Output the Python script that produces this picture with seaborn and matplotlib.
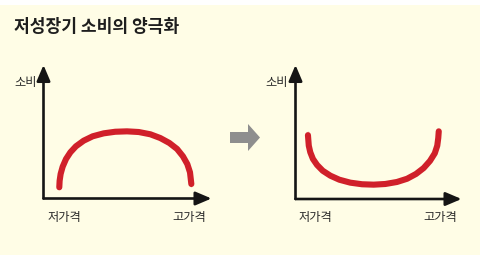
import matplotlib
matplotlib.use("Agg")
import matplotlib.pyplot as plt
from matplotlib.patches import Rectangle, FancyArrow
import seaborn as sns
import pandas as pd

sns.set_theme(style="white")
plt.rcParams['font.family'] = ['Noto Sans CJK KR', 'DejaVu Sans']

# ---- data (price 0-100 along x axis, consumption 0-100 along y axis) ----
title = "저성장기 소비의 양극화"
y_label = "소비"
x_low = "저가격"
x_high = "고가격"

before_price = [9.4, 9.6, 10.2, 11.4, 13.4, 16.0, 19.3, 23.9, 29.3, 35.8, 42.7,
                49.7, 56.7, 63.6, 69.5, 74.9, 79.5, 83.0, 85.6, 87.2, 88.0, 88.0]
before_consumption = [8.4, 13.3, 18.4, 23.8, 29.6, 34.6, 39.1, 43.3, 46.6, 48.8, 50.0,
                      50.3, 49.8, 48.1, 45.3, 41.6, 37.1, 31.6, 25.8, 19.6, 13.3, 8.4]

after_price = [7.5, 7.5, 8.0, 8.9, 10.5, 13.0, 16.4, 21.0, 26.4, 33.0, 40.1,
               47.1, 54.1, 61.1, 67.2, 72.6, 77.2, 81.0, 83.9, 85.4, 86.0, 86.3]
after_consumption = [50.5, 44.8, 39.8, 34.9, 29.9, 25.4, 21.1, 17.4, 14.4, 12.2, 11.0,
                     10.7, 11.2, 12.7, 15.1, 18.7, 23.1, 28.4, 34.1, 39.8, 45.5, 50.5]

W, H = 480, 262
fig = plt.figure(figsize=(W / 100, H / 100), dpi=100, facecolor="white")

# cream background band
fig.patches.append(Rectangle((0, 7 / H), 1, 250 / H, transform=fig.transFigure,
                             facecolor="#fffde6", edgecolor="none", zorder=-5))

fig.text(14 / W, 1 - 27.5 / H, title, fontsize=12.3, fontweight="black",
         color="#1e1e1e", ha="left", va="center")

RED = "#d0202a"
AXC = "#151515"


def panel(rect, px, py):
    ax = fig.add_axes(rect)
    ax.set_facecolor("none")
    ax.set_zorder(3)
    df = pd.DataFrame({"price": px, "consumption": py})
    sns.lineplot(data=df, x="price", y="consumption", sort=False, ax=ax,
                 color=RED, linewidth=4.4, solid_capstyle="round",
                 solid_joinstyle="round")
    ax.set_xlim(0, 100)
    ax.set_ylim(0, 100)
    for s in ax.spines.values():
        s.set_visible(False)
    ax.set_xticks([])
    ax.set_yticks([])
    ax.set_xlabel("")
    ax.set_ylabel("")
    ap = dict(arrowstyle="-|>,head_length=0.8,head_width=0.34", lw=1.9,
              color=AXC, shrinkA=0, shrinkB=0, mutation_scale=12)
    ax.annotate("", xy=(100, 0), xytext=(0, 0), arrowprops=ap,
                annotation_clip=False)
    ax.annotate("", xy=(0, 100), xytext=(0, 0), arrowprops=ap,
                annotation_clip=False)
    return ax


# left panel: origin (43.5,198.5), x tip 211.7, y tip 65
panel([43.5 / W, (H - 198.5) / H, 168 / W, 133.5 / H], before_price, before_consumption)
# right panel: origin (295.5,199), x tip 461.5, y tip 65
panel([295.5 / W, (H - 199) / H, 166 / W, 134 / H], after_price, after_consumption)

LBL = "#2a2a2a"
FS = 8.8
fig.text(26 / W, 1 - 83 / H, y_label, fontsize=FS, color=LBL, ha="center", va="center")
fig.text(64 / W, 1 - 217.5 / H, x_low, fontsize=FS, color=LBL, ha="center", va="center")
fig.text(189.5 / W, 1 - 217.5 / H, x_high, fontsize=FS, color=LBL, ha="center", va="center")
fig.text(277 / W, 1 - 82.5 / H, y_label, fontsize=FS, color=LBL, ha="center", va="center")
fig.text(315.8 / W, 1 - 217 / H, x_low, fontsize=FS, color=LBL, ha="center", va="center")
fig.text(440.5 / W, 1 - 217 / H, x_high, fontsize=FS, color=LBL, ha="center", va="center")

# gray transition arrow
fig.patches.append(FancyArrow(2.30, (H - 137.5) / 100, 0.30, 0, width=0.11,
                              head_width=0.27, head_length=0.12,
                              length_includes_head=True,
                              transform=fig.dpi_scale_trans,
                              facecolor="#8e8e8e", edgecolor="none", zorder=2))

fig.savefig("out.png", dpi=100, facecolor=fig.get_facecolor())
